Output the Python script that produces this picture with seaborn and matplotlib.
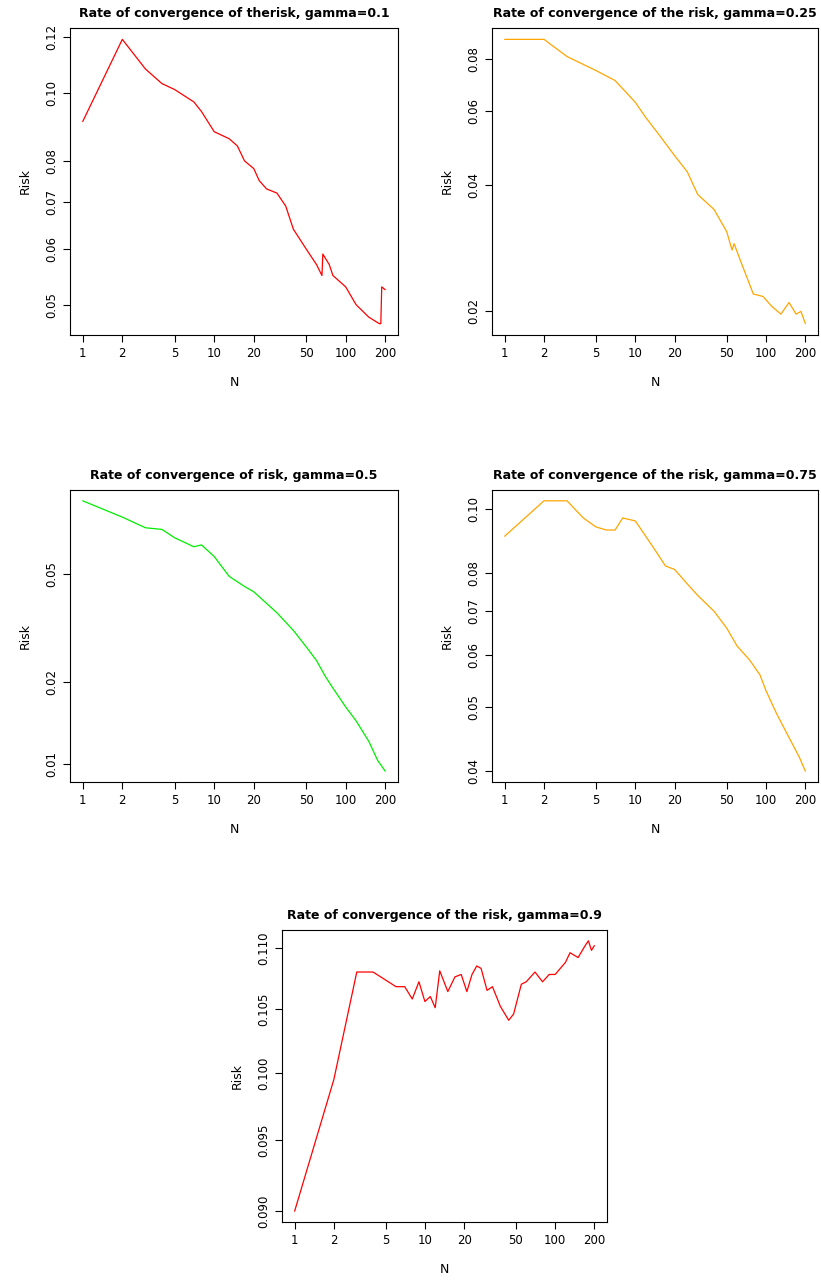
import matplotlib
matplotlib.use("Agg")
import matplotlib.pyplot as plt
import numpy as np
import pandas as pd
import seaborn as sns
from matplotlib.ticker import FixedLocator, NullLocator, FixedFormatter

sns.set_style("white")
plt.rcParams["font.family"] = ["DejaVu Sans"]
plt.rcParams["text.color"] = "black"
plt.rcParams["axes.labelcolor"] = "black"
plt.rcParams["xtick.color"] = "black"
plt.rcParams["ytick.color"] = "black"

n1 = [1, 2, 3, 4, 5, 7, 8, 10, 13, 15, 17, 20, 22, 25, 30, 35, 40, 50, 60, 66, 67, 75, 80, 100, 120, 150, 180, 185, 188, 200]
r1 = [0.091, 0.119, 0.108, 0.103, 0.101, 0.097, 0.094, 0.088, 0.086, 0.084, 0.080, 0.078, 0.075, 0.073, 0.072, 0.069,
      0.064, 0.060, 0.057, 0.055, 0.059, 0.057, 0.055, 0.053, 0.050, 0.048, 0.047, 0.047, 0.053, 0.0525]

n2 = [1, 2, 3, 5, 7, 10, 12, 15, 20, 25, 30, 40, 50, 55, 57, 65, 80, 95, 110, 130, 150, 170, 185, 200]
r2 = [0.089, 0.089, 0.081, 0.075, 0.071, 0.063, 0.058, 0.053, 0.047, 0.043, 0.038, 0.035, 0.031, 0.028, 0.029,
      0.026, 0.022, 0.0217, 0.0206, 0.0197, 0.021, 0.0197, 0.020, 0.0187]

n3 = [1, 2, 3, 4, 5, 7, 8, 10, 13, 17, 20, 25, 30, 40, 50, 60, 70, 80, 100, 120, 150, 175, 200]
r3 = [0.093, 0.081, 0.074, 0.073, 0.068, 0.063, 0.064, 0.058, 0.049, 0.045, 0.043, 0.039, 0.036, 0.031, 0.027,
      0.024, 0.021, 0.019, 0.0162, 0.0144, 0.0121, 0.0103, 0.0094]

n4 = [1, 2, 3, 4, 5, 6, 7, 8, 10, 12, 14, 17, 20, 25, 30, 40, 50, 60, 75, 90, 100, 120, 150, 180, 200]
r4 = [0.091, 0.103, 0.103, 0.097, 0.094, 0.093, 0.093, 0.097, 0.096, 0.091, 0.087, 0.082, 0.081, 0.077, 0.074,
      0.070, 0.066, 0.062, 0.059, 0.056, 0.053, 0.049, 0.045, 0.042, 0.040]

n5 = [1, 2, 3, 4, 6, 7, 8, 9, 10, 11, 12, 13, 15, 17, 19, 21, 23, 25, 27, 30, 33, 38, 44, 48, 55, 60, 70, 80, 90,
      100, 120, 130, 150, 170, 180, 190, 200]
r5 = [0.090, 0.0995, 0.108, 0.108, 0.1068, 0.1068, 0.1058, 0.1072, 0.1056, 0.106, 0.1051, 0.1081, 0.1064, 0.1076,
      0.1078, 0.1064, 0.1078, 0.1085, 0.1083, 0.1065, 0.1068, 0.1052, 0.1041, 0.1046, 0.107, 0.1072, 0.108, 0.1072,
      0.1078, 0.1078, 0.1088, 0.1096, 0.1092, 0.1102, 0.1106, 0.1098, 0.1102]

panels = [
    (n1, r1, "red", "Rate of convergence of therisk, gamma=0.1", [0.05, 0.06, 0.07, 0.08, 0.10, 0.12],
     ["0.05", "0.06", "0.07", "0.08", "0.10", "0.12"], (70, 28, 328, 307)),
    (n2, r2, "orange", "Rate of convergence of the risk, gamma=0.25", [0.02, 0.04, 0.06, 0.08],
     ["0.02", "0.04", "0.06", "0.08"], (492, 28, 326, 307)),
    (n3, r3, "#00ee00", "Rate of convergence of risk, gamma=0.5", [0.01, 0.02, 0.05],
     ["0.01", "0.02", "0.05"], (70, 490, 328, 292)),
    (n4, r4, "orange", "Rate of convergence of the risk, gamma=0.75", [0.04, 0.05, 0.06, 0.07, 0.08, 0.10],
     ["0.04", "0.05", "0.06", "0.07", "0.08", "0.10"], (492, 490, 326, 292)),
    (n5, r5, "red", "Rate of convergence of the risk, gamma=0.9", [0.090, 0.095, 0.100, 0.105, 0.110],
     ["0.090", "0.095", "0.100", "0.105", "0.110"], (282, 930, 325, 292)),
]

W, H = 821, 1286
fig = plt.figure(figsize=(W / 100, H / 100), dpi=100)
xt = [1, 2, 5, 10, 20, 50, 100, 200]

for n, r, color, title, yt, ytl, (x0, y0, w, h) in panels:
    ax = fig.add_axes([x0 / W, 1 - (y0 + h) / H, w / W, h / H])
    df = pd.DataFrame({"N": n, "Risk": r})
    sns.lineplot(data=df, x="N", y="Risk", color=color, lw=0.9, ax=ax)
    ax.set_xscale("log")
    ax.set_yscale("log")
    lo, hi = min(r), max(r)
    pad = (np.log(hi) - np.log(lo)) * 0.04
    ax.set_ylim(lo * np.exp(-pad), hi * np.exp(pad))
    ax.set_xlim(0.8, 250)
    ax.xaxis.set_major_locator(FixedLocator(xt))
    ax.xaxis.set_major_formatter(FixedFormatter([str(v) for v in xt]))
    ax.xaxis.set_minor_locator(NullLocator())
    ax.yaxis.set_major_locator(FixedLocator(yt))
    ax.yaxis.set_major_formatter(FixedFormatter(ytl))
    ax.yaxis.set_minor_locator(NullLocator())
    ax.tick_params(axis="both", direction="out", length=5, width=0.8, labelsize=8.5, left=True, bottom=True)
    for lab in ax.get_yticklabels():
        lab.set_rotation(90)
        lab.set_va("center")
    for s in ax.spines.values():
        s.set_color("black")
        s.set_linewidth(0.8)
    ax.set_title(title, fontsize=9, fontweight="bold", pad=8)
    ax.set_xlabel("N", fontsize=9, labelpad=12)
    ax.set_ylabel("Risk", fontsize=9, labelpad=10)

fig.savefig("out.png", dpi=100)
